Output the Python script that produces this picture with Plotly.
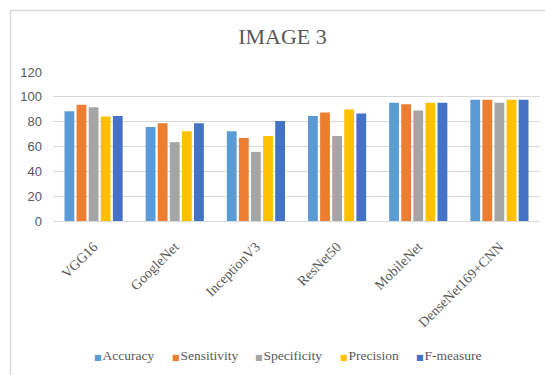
import plotly.graph_objects as go

# Model names on the category axis
models = ["VGG16", "GoogleNet", "InceptionV3", "ResNet50", "MobileNet", "DenseNet169+CNN"]

# Metric values (%) per model
accuracy = [88.4, 75.7, 72.3, 84.6, 95.3, 97.7]
sensitivity = [93.7, 78.7, 66.9, 87.3, 94.0, 97.7]
specificity = [91.6, 63.5, 55.7, 68.5, 88.9, 95.3]
precision = [84.1, 72.3, 68.5, 89.7, 95.3, 97.7]
f_measure = [84.6, 78.7, 80.6, 86.5, 95.3, 97.7]

series_names = ["Accuracy", "Sensitivity", "Specificity", "Precision", "F-measure"]
series_values = [accuracy, sensitivity, specificity, precision, f_measure]
series_colors = ["#5B9BD5", "#ED7D31", "#A5A5A5", "#FFC000", "#4472C4"]

W, H = 545, 375
L, R, T, B = 53, 5, 72, 154
plot_w = W - L - R

serif = "Liberation Serif, Times New Roman, serif"
sans = "Liberation Sans, Arial, sans-serif"
text_gray = "#595959"

fig = go.Figure()
for name, vals, color in zip(series_names, series_values, series_colors):
    fig.add_trace(go.Bar(x=models, y=vals, name=name, marker_color=color,
                         marker_line_width=0, showlegend=False))


def px_to_paper_x(px):
    return (px - L) / plot_w


# Compact legend row: small coloured square followed by the series name
legend_left_px = [92, 170, 253, 338, 414]
annotations = []
for name, color, lx in zip(series_names, series_colors, legend_left_px):
    annotations.append(dict(
        xref="paper", yref="paper", x=px_to_paper_x(lx), y=-(355 - (H - B)) / (H - T - B),
        xanchor="left", yanchor="middle", showarrow=False,
        text=f"<span style='color:{color};font-size:8px;font-family:DejaVu Sans'>■</span>"
             f"<span style='font-size:4px'> </span>{name}",
        font=dict(family=serif, size=13.5, color=text_gray),
    ))

fig.update_layout(
    width=W, height=H,
    margin=dict(l=L, r=R, t=T, b=B),
    paper_bgcolor="white", plot_bgcolor="white",
    barmode="group", bargap=0.255, bargroupgap=0.19,
    title=dict(text="IMAGE 3", x=282.5 / W, xanchor="center", y=1 - 36.5 / H,
               yanchor="middle", yref="container", xref="container",
               font=dict(family=serif, size=22, color=text_gray)),
    xaxis=dict(tickangle=-45, tickfont=dict(family=serif, size=14, color=text_gray),
               showgrid=False, showline=True, linecolor="#D9D9D9", ticks="",
               ticklabelstandoff=11),
    yaxis=dict(range=[0, 120], dtick=20, showgrid=True, gridcolor="#D9D9D9",
               gridwidth=1, zeroline=False, ticks="",
               tickfont=dict(family=sans, size=13, color=text_gray),
               ticklabelstandoff=10),
    annotations=annotations,
    shapes=[dict(type="rect", xref="paper", yref="paper",
                 x0=px_to_paper_x(10.5), x1=px_to_paper_x(560),
                 y0=-2.0, y1=1 + (T - 10.5) / (H - T - B),
                 line=dict(color="#D9D9D9", width=1.5), fillcolor="rgba(0,0,0,0)",
                 layer="below")],
)

fig.write_html("out.html")
